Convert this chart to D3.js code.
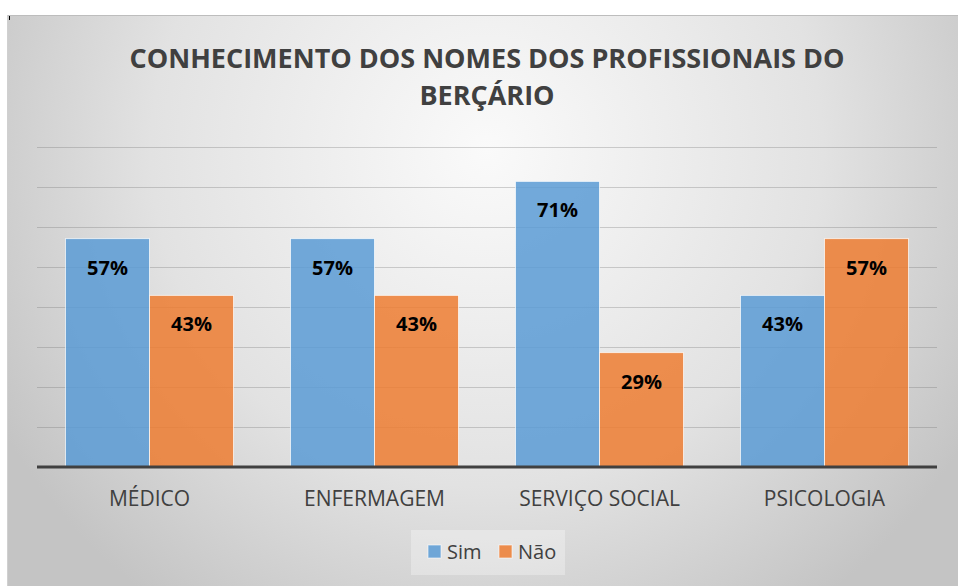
<!DOCTYPE html>
<html>
<head>
<meta charset="utf-8">
<script src="https://cdn.jsdelivr.net/npm/d3@7"></script>
<style>
  body { margin: 0; background: #fff; }
  svg { display: block; font-family: "Open Sans", sans-serif; }
</style>
</head>
<body>
<div id="chart"></div>
<script>
var categories = ['MÉDICO', 'ENFERMAGEM', 'SERVIÇO SOCIAL', 'PSICOLOGIA']
var series = ['Sim', 'Não']
var sim = [57.1, 57.1, 71.4, 42.9]
var nao = [42.9, 42.9, 28.6, 57.1]
var yTicks = [0, 10, 20, 30, 40, 50, 60, 70, 80]

var W = 958, H = 586
var svg = d3.select('#chart').append('svg')
    .attr('width', W)
    .attr('height', H)

var defs = svg.append('defs')
var grad = defs.append('radialGradient')
    .attr('id', 'bg')
    .attr('gradientUnits', 'userSpaceOnUse')
    .attr('cx', 487).attr('cy', 150).attr('r', 560)
grad.append('stop').attr('offset', '0%').attr('stop-color', '#fafafa')
grad.append('stop').attr('offset', '60%').attr('stop-color', '#e2e2e2')
grad.append('stop').attr('offset', '100%').attr('stop-color', '#c4c4c4')

svg.append('rect')
    .attr('x', 7).attr('y', 15)
    .attr('width', W - 7).attr('height', H - 15)
    .attr('fill', 'url(#bg)')
svg.append('line')
    .attr('x1', 7).attr('x2', W).attr('y1', 15.5).attr('y2', 15.5)
    .attr('stroke', '#bdbdbd')
svg.append('line')
    .attr('x1', 7.5).attr('x2', 7.5).attr('y1', 15).attr('y2', H)
    .attr('stroke', '#d0d0d0')
svg.append('rect').attr('x', 9).attr('y', 16).attr('width', 1).attr('height', 4).attr('fill', '#000')

var x0 = d3.scaleBand().domain(categories).range([37, 937]).paddingInner(0).paddingOuter(0)
var x1 = d3.scaleBand().domain(series).range([0, x0.bandwidth()]).paddingOuter(0.339).paddingInner(0)
var y = d3.scaleLinear().domain([0, 80]).range([467, 147])
var color = d3.scaleOrdinal().domain(series).range(['#5b9bd5', '#ed7d31'])

// gridlines
svg.append('g')
    .selectAll('line')
    .data(yTicks.slice(1))
    .enter().append('line')
    .attr('x1', 37).attr('x2', 937)
    .attr('y1', d => y(d) + 0.5).attr('y2', d => y(d) + 0.5)
    .attr('stroke', '#6e6e6e')
    .attr('stroke-opacity', 0.3)

var rows = categories.map((c, i) => ({ cat: c, values: [
    { key: 'Sim', v: sim[i] },
    { key: 'Não', v: nao[i] }
]}))

var groups = svg.append('g')
    .selectAll('g')
    .data(rows)
    .enter().append('g')
    .attr('transform', d => `translate(${x0(d.cat)},0)`)

groups.selectAll('rect')
    .data(d => d.values)
    .enter().append('rect')
    .attr('x', d => x1(d.key))
    .attr('y', d => y(d.v))
    .attr('width', x1.bandwidth())
    .attr('height', d => y(0) - y(d.v))
    .attr('fill', d => color(d.key))
    .attr('fill-opacity', 0.85)
    .attr('stroke', '#ffffff')
    .attr('stroke-opacity', 0.7)
    .attr('stroke-width', 1)

groups.selectAll('text')
    .data(d => d.values)
    .enter().append('text')
    .attr('x', d => x1(d.key) + x1.bandwidth() / 2)
    .attr('y', d => y(d.v) + 36)
    .attr('text-anchor', 'middle')
    .attr('font-size', 20)
    .attr('font-weight', 'bold')
    .attr('fill', '#000')
    .text(d => Math.round(d.v) + '%')

// baseline
svg.append('line')
    .attr('x1', 37).attr('x2', 937)
    .attr('y1', y(0)).attr('y2', y(0))
    .attr('stroke', '#404040')
    .attr('stroke-width', 3)

var xAxis = svg.append('g')
    .attr('transform', `translate(0,${y(0)})`)
    .call(d3.axisBottom(x0).tickSize(0).tickPadding(24))
xAxis.select('.domain').remove()
xAxis.selectAll('text')
    .attr('font-family', '"Open Sans", sans-serif')
    .attr('font-size', 21)
    .attr('fill', '#404040')

// title
var title = svg.append('text')
    .attr('text-anchor', 'middle')
    .attr('font-size', 27)
    .attr('font-weight', 'bold')
    .attr('fill', '#404040')
title.append('tspan').attr('x', 487).attr('y', 68).text('CONHECIMENTO DOS NOMES DOS PROFISSIONAIS DO')
title.append('tspan').attr('x', 487).attr('y', 105).text('BERÇÁRIO')

// legend
svg.append('rect')
    .attr('x', 411).attr('y', 530)
    .attr('width', 154).attr('height', 45)
    .attr('fill', '#ffffff').attr('fill-opacity', 0.3)

var legend = svg.append('g')
    .selectAll('g')
    .data(series)
    .enter().append('g')
    .attr('transform', (d, i) => `translate(${428 + i * 71},545)`)

legend.append('rect')
    .attr('width', 13).attr('height', 13)
    .attr('fill', color)
    .attr('fill-opacity', 0.85)
    .attr('stroke', '#fff').attr('stroke-opacity', 0.6)

legend.append('text')
    .attr('x', 19)
    .attr('y', 14)
    .attr('font-size', 20)
    .attr('fill', '#404040')
    .text(d => d)
</script>
</body>
</html>
